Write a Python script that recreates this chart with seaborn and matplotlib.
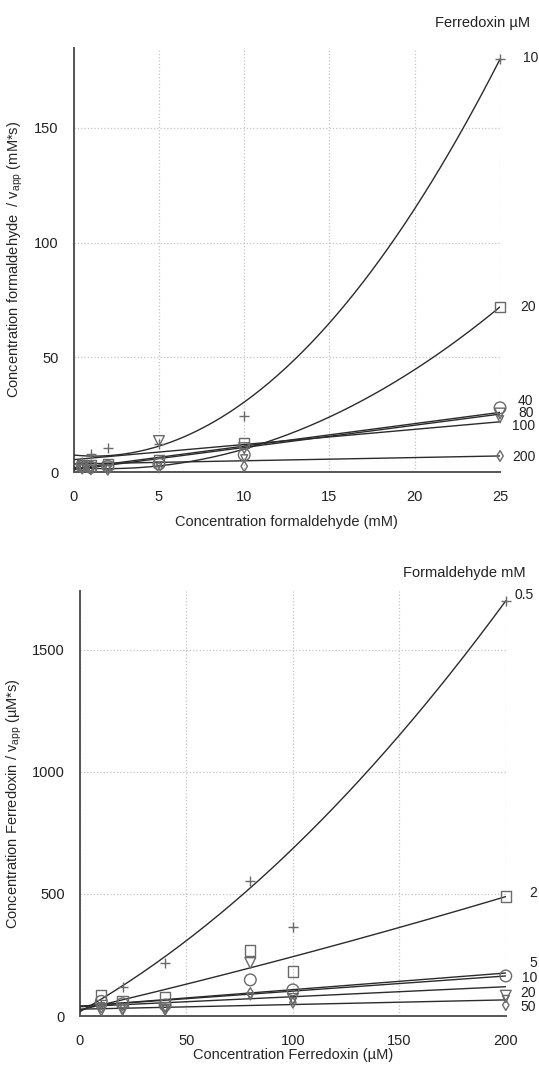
import numpy as np
import seaborn as sns
import matplotlib.pyplot as plt
from matplotlib.transforms import blended_transform_factory

# ---- top panel: S/v vs formaldehyde, one series per ferredoxin conc. ----
form_x = [0.5, 1, 2, 5, 10, 25]
ferr_labels = ["10", "20", "40", "80", "100", "200"]
ferr_10 = [4.5, 7.8, 10.6, 12.0, 24.3, 180]
ferr_20 = [3.0, 2.8, 3.5, 5.0, 12.7, 72]
ferr_40 = [2.5, 2.0, 2.5, 3.5, 7.5, 28]
ferr_80 = [2.0, 1.8, 2.0, 13.5, 10.4, 25.5]
ferr_100 = [1.8, 1.5, 1.5, 3.0, 6.0, 23]
ferr_200 = [1.5, 1.2, 1.0, 2.0, 2.5, 7]
# fitted curves a + b*x + c*x^2
ferr_fit_a = [7.4, 2.0, 1.5, 1.0, 5.4, 3.5]
ferr_fit_b = [-0.756, -0.533, 0.98, 0.97, 0.66, 0.14]
ferr_fit_c = [0.3064, 0.1333, 0, 0, 0, 0]

# ---- bottom panel: S/v vs ferredoxin, one series per formaldehyde conc. ----
ferr_x = [10, 20, 40, 80, 100, 200]
form_labels = ["0.5", "2", "5", "10", "20", "50"]
form_05 = [55, 120, 216, 553, 366, 1700]
form_2 = [86, 60, 79, 268, 182, 489]
form_5 = [60, 50, 45, 148, 107, 164]
form_10 = [22, 25, 25, 217, 70, 83]
form_20 = [40, 35, 30, 80, 60, 70]
form_50 = [35, 30, 28, 94, 55, 45]
form_fit_a = [18, 25, 40, 40, 38, 28]
form_fit_b = [4.95, 2.04, 0.68, 0.62, 0.41, 0.19]
form_fit_c = [0.0173, 0.0014, 0, 0, 0, 0]

sns.set_style("white")
plt.rcParams['font.family'] = ['Liberation Sans', 'DejaVu Sans']
plt.rcParams['mathtext.fontset'] = 'custom'
plt.rcParams['mathtext.rm'] = 'Liberation Sans'
plt.rcParams['mathtext.it'] = 'Liberation Sans'

markers = ['+', 's', 'o', 'v', 'v', 'd']
msizes = [60, 55, 70, 60, 25, 30]
mark_col = '#6a6a6a'
line_col = '#2b2b2b'
fs = 10.5

fig = plt.figure(figsize=(5.39, 10.65), dpi=100)
ax1 = fig.add_axes([0.1367, 0.5568, 0.791, 0.3984])
ax2 = fig.add_axes([0.1484, 0.046, 0.790, 0.399])


def draw_panel(ax, xs, series, fa, fb, fc, xmax):
    xx = np.linspace(0, xmax, 200)
    for i, ys in enumerate(series):
        yy = fa[i] + fb[i] * xx + fc[i] * xx ** 2
        sns.lineplot(x=xx, y=yy, ax=ax, color=line_col, lw=1.0, zorder=3)
        if markers[i] == '+':
            sns.scatterplot(x=xs, y=ys, ax=ax, marker='+', s=msizes[i],
                            color=mark_col, linewidth=1.0, zorder=4,
                            clip_on=False)
        else:
            sns.scatterplot(x=xs, y=ys, ax=ax, marker=markers[i], s=msizes[i],
                            facecolor='none', edgecolor=mark_col,
                            linewidth=1.0, zorder=4, clip_on=False)


draw_panel(ax1, form_x, [ferr_10, ferr_20, ferr_40, ferr_80, ferr_100, ferr_200],
           ferr_fit_a, ferr_fit_b, ferr_fit_c, 25)
draw_panel(ax2, ferr_x, [form_05, form_2, form_5, form_10, form_20, form_50],
           form_fit_a, form_fit_b, form_fit_c, 200)

ax1.set_xlim(0, 25)
ax1.set_ylim(0, 185)
ax1.set_xticks([0, 5, 10, 15, 20, 25])
ax1.set_yticks([0, 50, 100, 150])
ax2.set_xlim(0, 200)
ax2.set_ylim(0, 1740)
ax2.set_xticks([0, 50, 100, 150, 200])
ax2.set_yticks([0, 500, 1000, 1500])

for ax in (ax1, ax2):
    sns.despine(ax=ax)
    for sp in ('left', 'bottom'):
        ax.spines[sp].set_color('#555555')
        ax.spines[sp].set_linewidth(1.4)
    ax.grid(True, color='#c4c4c4', linestyle=':', linewidth=0.9)
    ax.set_axisbelow(True)
    ax.tick_params(direction='out', length=7, width=1.0, color='#555555',
                   labelsize=fs, labelcolor='#222222', pad=4)
    ax.tick_params(axis='x', pad=6)

ax1.set_xlabel('Concentration formaldehyde (mM)', fontsize=fs, labelpad=8)
ax1.set_ylabel('Concentration formaldehyde  / v$_{\\mathrm{app}}$ (mM*s)',
               fontsize=fs, labelpad=6)
ax2.set_xlabel('Concentration Ferredoxin (µM)', fontsize=fs, labelpad=0)
ax2.set_ylabel('Concentration Ferredoxin / v$_{\\mathrm{app}}$ (µM*s)',
               fontsize=fs, labelpad=6)

# series labels at the right edge
lab_fs = 10
t1 = blended_transform_factory(ax1.transAxes, ax1.transData)
for lab, xo, yo in zip(ferr_labels, [1.054, 1.047, 1.042, 1.042, 1.028, 1.028],
                       [180.4, 71.9, 31.0, 25.6, 20.2, 6.7]):
    ax1.text(xo, yo, lab, transform=t1, fontsize=lab_fs, va='center',
             ha='left', color='#222222', clip_on=False, linespacing=1.0)
t2 = blended_transform_factory(ax2.transAxes, ax2.transData)
for lab, xo, yo in zip(form_labels, [1.021, 1.056, 1.056, 1.037, 1.035, 1.035],
                       [1725, 504, 217, 156, 95, 38]):
    ax2.text(xo, yo, lab, transform=t2, fontsize=lab_fs, va='center',
             ha='left', color='#222222', clip_on=False)

fig.text(0.807, 0.9787, 'Ferredoxin µM', fontsize=fs, va='center', ha='left',
         color='#222222')
fig.text(0.748, 0.462, 'Formaldehyde mM', fontsize=fs, va='center', ha='left',
         color='#222222')

fig.savefig('out.png', dpi=100)
